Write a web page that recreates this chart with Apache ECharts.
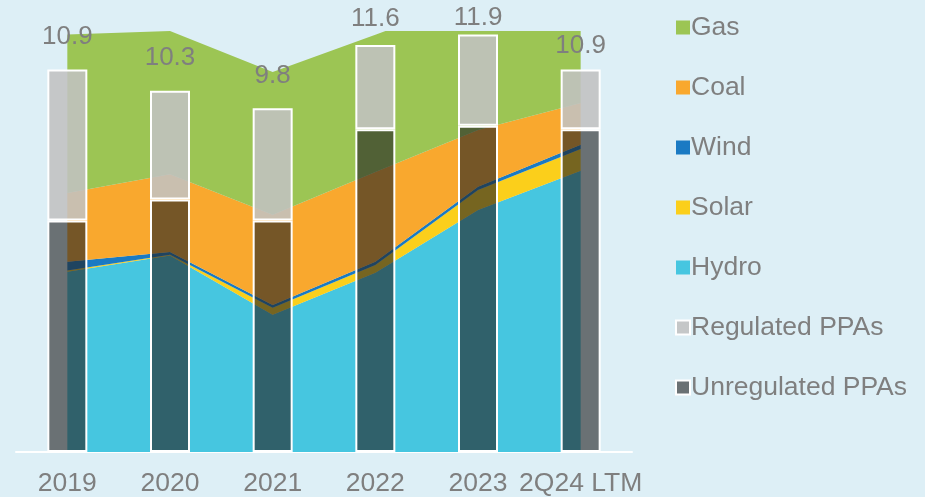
<!DOCTYPE html>
<html>
<head>
<meta charset="utf-8">
<script src="https://cdn.jsdelivr.net/npm/echarts/dist/echarts.min.js"></script>
<style>
  html, body { margin: 0; padding: 0; background: #ddeff6; }
  #main { width: 925px; height: 497px; }
</style>
</head>
<body>
<div id="main"></div>
<script>
// categories + values
var categories = ["2019", "2020", "2021", "2022", "2023", "2Q24 LTM"];

// stacked areas (bottom -> top)
var hydro = [5.14, 5.6, 3.91, 5.11, 6.9, 8.02];
var solar = [0.03, 0.02, 0.2, 0.22, 0.57, 0.62];
var wind = [0.25, 0.08, 0.08, 0.09, 0.09, 0.12];
var coal = [1.96, 2.22, 2.57, 2.56, 1.62, 1.19];
var gas = [4.52, 4.08, 4.07, 3.91, 3.82, 2.85];

// stacked bars
var unregulated = [6.6, 7.2, 6.6, 9.2, 9.3, 9.2];
var regulated = [4.3, 3.1, 3.2, 2.4, 2.6, 1.7];
var totals = [10.9, 10.3, 9.8, 11.6, 11.9, 10.9];

var labelGaps = [20, 20, 19, 13, 4, 11];

var textGray = "#7f7f7f";
var font = "Liberation Sans, Arial, sans-serif";

function areaSeries(name, data, color) {
  return {
    name: name,
    type: "line",
    stack: "gen",
    z: 1,
    data: data,
    showSymbol: false,
    symbol: "none",
    itemStyle: { color: color },
    lineStyle: { width: 0 },
    areaStyle: { color: color, opacity: 1 },
  };
}

var mychart = echarts.init(document.getElementById("main"));
var option = {
  backgroundColor: "#ddeff6",
  animation: false,
  grid: {
    left: 16,
    right: 293,
    top: 31,
    bottom: 45,
    outerBoundsMode: "none",
  },
  legend: {
    orient: "vertical",
    left: 670,
    top: 9,
    icon: "rect",
    itemWidth: 14,
    itemHeight: 14,
    itemGap: 33,
    textStyle: {
      color: textGray,
      fontSize: 26.5,
      lineHeight: 26,
      fontFamily: font,
      padding: [0, 0, 0, -4],
    },
    data: ["Gas", "Coal", "Wind", "Solar", "Hydro", "Regulated PPAs", "Unregulated PPAs"],
  },
  xAxis: {
    type: "category",
    data: categories,
    axisLine: { lineStyle: { color: "#ffffff", width: 2 } },
    axisTick: { show: false },
    axisLabel: {
      color: textGray,
      fontSize: 26.5,
      lineHeight: 26,
      fontFamily: font,
      margin: 19,
      interval: 0,
    },
  },
  yAxis: {
    type: "value",
    min: 0,
    max: 12,
    show: false,
    splitLine: { show: false },
  },
  series: [
    areaSeries("Hydro", hydro, "#46c6e0"),
    areaSeries("Solar", solar, "#fbcf1b"),
    areaSeries("Wind", wind, "#1a7ac3"),
    areaSeries("Coal", coal, "#f9a82e"),
    areaSeries("Gas", gas, "#9cc554"),
    {
      name: "Unregulated PPAs",
      type: "bar",
      stack: "ppa",
      z: 3,
      barWidth: 40,
      data: unregulated,
      itemStyle: {
        color: "rgba(35,35,36,0.62)",
        borderColor: "#ffffff",
        borderWidth: 2,
      },
    },
    {
      name: "Regulated PPAs",
      type: "bar",
      stack: "ppa",
      z: 3,
      barWidth: 40,
      data: regulated.map(function (v, i) {
        return { value: v, label: { distance: labelGaps[i] } };
      }),
      itemStyle: {
        color: "rgba(194,193,194,0.88)",
        borderColor: "#ffffff",
        borderWidth: 2,
      },
      label: {
        show: true,
        position: "top",
        color: textGray,
        fontSize: 26,
        lineHeight: 26,
        fontFamily: font,
        formatter: function (p) {
          return totals[p.dataIndex].toFixed(1);
        },
      },
    },
  ],
};
mychart.setOption(option);
</script>
</body>
</html>
